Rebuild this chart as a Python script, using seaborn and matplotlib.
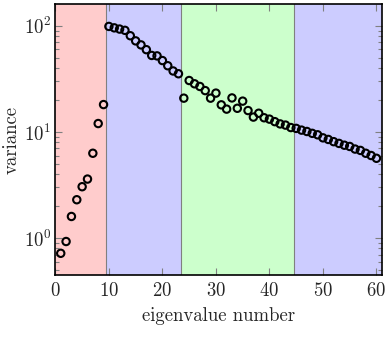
import numpy as np
import pandas as pd
import matplotlib
matplotlib.use("Agg")
import matplotlib.pyplot as plt
import seaborn as sns

# eigenvalue spectrum
eig_num = list(range(1, 61))
variance = [0.72, 0.93, 1.6, 2.3, 3.05, 3.6, 6.3, 12.0, 18.1,
            98.5, 95.5, 93.0, 90.5, 80.5, 72.0, 66.0, 59.5, 52.5, 52.0, 47.0,
            42.0, 37.5, 35.3,
            20.8, 30.5, 28.4, 26.8, 24.5, 20.8, 23.2, 18.0, 16.4, 20.9, 16.7,
            19.5, 15.9, 13.8, 15.0, 13.6, 13.2, 12.5, 11.9, 11.6, 11.0,
            10.8, 10.4, 10.1, 9.7, 9.4, 8.8, 8.5, 8.1, 7.8, 7.5, 7.3, 6.9,
            6.7, 6.3, 6.0, 5.65]
# shaded bands (start, end, colour)
band_edges = [0, 9.5, 23.5, 44.5, 61]
band_colors = ["#ffcccc", "#ccccff", "#ccffcc", "#ccccff"]

df = pd.DataFrame({"eigenvalue number": eig_num, "variance": variance})

sns.set_style("ticks")
plt.rcParams["font.family"] = "serif"
plt.rcParams["font.serif"] = ["cmr10", "DejaVu Serif"]
plt.rcParams["mathtext.fontset"] = "cm"
plt.rcParams["axes.formatter.use_mathtext"] = True

fig = plt.figure(figsize=(3.9, 3.37), dpi=100)
ax = fig.add_axes([0.142, 0.184, 0.837, 0.804])

for i in range(len(band_colors)):
    ax.axvspan(band_edges[i], band_edges[i + 1], facecolor=band_colors[i],
               edgecolor="none", zorder=0)
for x in band_edges[1:-1]:
    ax.axvline(x, color="#808080", lw=0.8, zorder=1)

sns.scatterplot(data=df, x="eigenvalue number", y="variance", ax=ax,
                facecolors="none", edgecolor="black", linewidth=1.5,
                s=28, zorder=3)

ax.set_yscale("log")
ax.set_xlim(0, 61)
ax.set_ylim(0.45, 160)
ax.set_xticks([0, 10, 20, 30, 40, 50, 60])
ax.set_xlabel("eigenvalue number", fontsize=13.5, labelpad=5)
ax.set_ylabel("variance", fontsize=13.5)
ax.yaxis.set_label_coords(-0.107, 0.5)
ax.tick_params(which="both", direction="in", top=True, right=True,
               color="#808080", labelsize=13.5)
ax.tick_params(which="major", length=5, width=0.8)
ax.tick_params(axis="x", which="major", pad=5)
ax.tick_params(axis="y", which="major", pad=3)
ax.tick_params(which="minor", length=3, width=0.8)
ax.tick_params(axis="x", which="minor", bottom=False, top=False)
for sp in ax.spines.values():
    sp.set_linewidth(1.2)
    sp.set_color("black")

fig.savefig("out.png", dpi=100)
